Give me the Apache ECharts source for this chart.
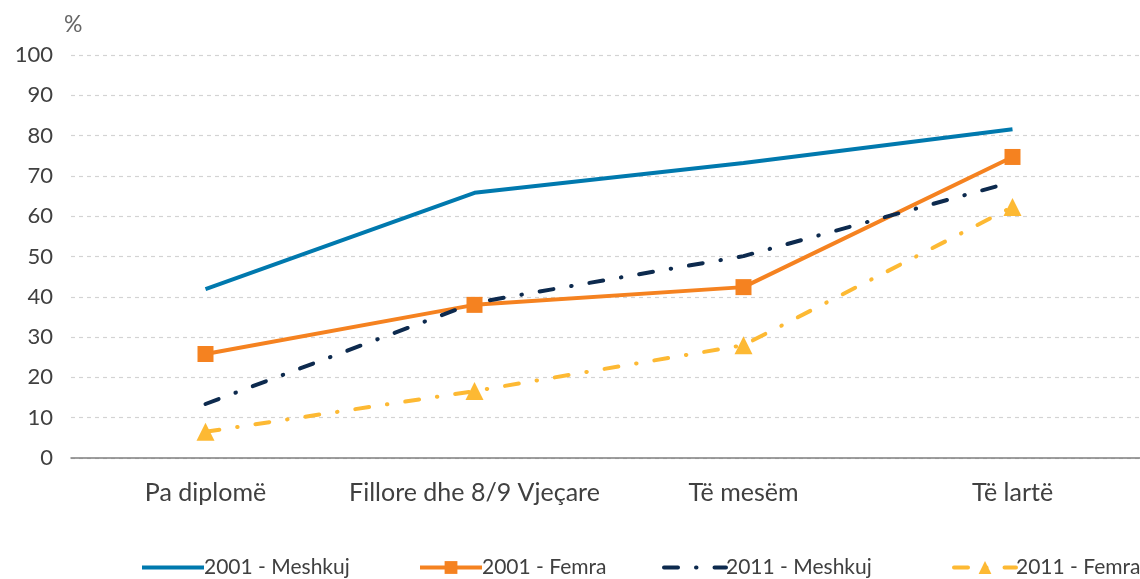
<!DOCTYPE html>
<html><head><meta charset="utf-8">
<script src="https://cdn.jsdelivr.net/npm/echarts@6/dist/echarts.min.js"></script>
<style>html,body{margin:0;padding:0;background:#fff;overflow:hidden}#c{width:1150px;height:579px}</style>
</head><body><div id="c"></div>
<script>
const categories = ['Pa diplomë', 'Fillore dhe 8/9 Vjeçare', 'Të mesëm', 'Të lartë'];
const yTicks = [0, 10, 20, 30, 40, 50, 60, 70, 80, 90, 100];
const m2001 = [41.9, 65.8, 73.2, 81.6];
const f2001 = [25.8, 38.0, 42.4, 74.7];
const m2011 = [13.4, 38.5, 50.1, 68.5];
const f2011 = [6.5, 16.6, 28.0, 62.3];
const names = ['2001 - Meshkuj', '2001 - Femra', '2011 - Meshkuj', '2011 - Femra'];

const FONT = 'Lato';
const dashDot = [14, 18, 0.5, 18];
const legendLefts = [135, 413, 657, 947];
const legends = names.map((n, i) => ({
  left: legendLefts[i], top: 552, itemWidth: 62, itemHeight: 16, itemGap: 0,
  lineStyle: {width: 4},
  textStyle: {fontSize: 21, color: '#404040', fontFamily: FONT, padding: [0, 0, 0, -5]},
  data: [(i === 0 || i === 2) ? {name: n, itemStyle: {color: 'transparent', borderWidth: 0}} : {name: n}]
}));
const chart = echarts.init(document.getElementById('c'), null, {renderer: 'canvas'});
chart.setOption({
  animation: false,
  textStyle: {fontFamily: FONT},
  grid: {left: 71, right: 3, top: 55, bottom: 121, containLabel: false},
  legend: legends,
  graphic: [{type: 'text', left: 64, top: 13, style: {text: '%', fontSize: 23, fill: '#666', fontFamily: FONT}}],
  xAxis: {
    type: 'category', data: categories, boundaryGap: true,
    axisLine: {lineStyle: {color: '#7f7f7f', width: 1.5}},
    axisTick: {length: 8, lineStyle: {color: '#7f7f7f', width: 1.5}},
    axisLabel: {fontSize: 25, color: '#404040', margin: 22, interval: 0, fontFamily: FONT}
  },
  yAxis: {
    type: 'value', min: yTicks[0], max: yTicks[yTicks.length - 1], interval: 10,
    axisLine: {show: false}, axisTick: {show: false},
    axisLabel: {fontSize: 22, color: '#404040', margin: 18, fontFamily: FONT},
    splitLine: {lineStyle: {color: '#d3d3d3', type: [4, 4], width: 1.2}}
  },
  series: [
    {name: names[0], type: 'line', data: m2001, symbol: 'none',
     lineStyle: {color: '#0079AE', width: 4}, itemStyle: {color: '#0079AE'}},
    {name: names[1], type: 'line', data: f2001, symbol: 'rect', symbolSize: 16,
     lineStyle: {color: '#F58220', width: 4}, itemStyle: {color: '#F58220'}},
    {name: names[2], type: 'line', data: m2011, symbol: 'none',
     lineStyle: {color: '#0D2A4E', width: 4, type: dashDot, cap: 'round'}, itemStyle: {color: '#0D2A4E'}},
    {name: names[3], type: 'line', data: f2011, symbol: 'triangle', symbolSize: 18,
     lineStyle: {color: '#FDB933', width: 4, type: dashDot, cap: 'round'}, itemStyle: {color: '#FDB933'}}
  ]
});
</script></body></html>
